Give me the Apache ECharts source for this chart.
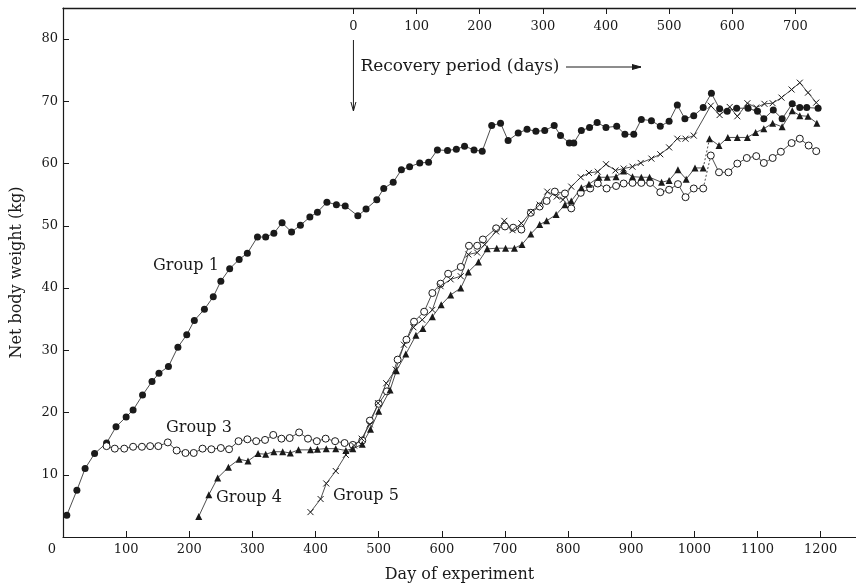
<!DOCTYPE html>
<html>
<head>
<meta charset="utf-8">
<title>Net body weight by group</title>
<script src="https://cdn.jsdelivr.net/npm/echarts@6/dist/echarts.min.js"></script>
<style>
  html, body { margin: 0; padding: 0; background: #fff; }
  #chart { width: 856px; height: 588px; }
</style>
</head>
<body>
<div id="chart"></div>
<script>
// Day of experiment and net body weight (kg) for each group
const group1Days = [6,22,35,50,69,84,100,111,126,141,152,167,182,196,208,224,238,250,264,279,292,308,321,334,347,362,376,391,403,418,433,447,467,480,497,508,523,536,549,565,579,593,609,623,636,651,664,679,693,705,721,735,749,763,778,788,802,809,821,834,846,860,877,890,904,916,932,946,960,973,985,999,1014,1027,1040,1052,1067,1085,1100,1110,1125,1139,1155,1167,1178,1196];
const group1Weight = [3.5,7.5,11.0,13.4,15.1,17.7,19.3,20.4,22.8,25.0,26.3,27.4,30.5,32.5,34.8,36.6,38.6,41.1,43.1,44.6,45.6,48.2,48.2,48.8,50.5,49.0,50.1,51.4,52.2,53.8,53.4,53.2,51.6,52.7,54.2,56.0,57.0,59.0,59.5,60.1,60.2,62.2,62.1,62.3,62.8,62.2,62.0,66.1,66.5,63.7,64.9,65.5,65.2,65.3,66.1,64.5,63.3,63.3,65.3,65.8,66.6,65.8,66.0,64.7,64.7,67.1,66.9,66.0,66.8,69.4,67.2,67.7,69.0,71.3,68.8,68.4,68.9,68.9,68.4,67.2,68.6,67.2,69.6,69.0,69.0,68.9];

const group3Days = [69,82,97,111,125,138,151,166,180,194,207,221,235,250,263,278,292,306,320,333,346,359,374,388,402,416,431,446,459,474,486,500,513,530,544,556,572,585,598,610,630,643,656,665,686,700,713,726,741,755,766,779,795,805,820,835,847,861,876,888,902,916,930,946,960,974,986,999,1014,1026,1039,1054,1068,1083,1098,1110,1124,1137,1154,1167,1181,1193];
const group3Weight = [14.6,14.2,14.2,14.5,14.5,14.6,14.6,15.2,13.9,13.5,13.5,14.2,14.1,14.3,14.1,15.4,15.7,15.4,15.6,16.4,15.8,15.9,16.8,15.8,15.4,15.8,15.4,15.1,14.8,15.5,18.7,21.4,23.4,28.5,31.7,34.6,36.2,39.2,40.7,42.3,43.4,46.8,46.8,47.8,49.6,49.9,49.7,49.4,52.1,53.1,54.0,55.5,55.2,52.8,55.3,56.0,56.8,56.0,56.4,56.8,56.9,56.9,56.9,55.4,55.8,56.7,54.6,56.0,56.0,61.3,58.6,58.6,60.0,60.9,61.2,60.1,60.9,61.9,63.3,64.0,62.9,62.0];

const group4Days = [215,231,245,262,279,293,309,321,334,348,360,373,392,403,417,432,448,459,474,487,500,518,528,543,559,570,585,599,614,630,642,658,672,687,701,715,727,741,755,766,781,795,805,821,833,849,862,876,888,902,916,929,948,960,974,987,1001,1014,1024,1039,1053,1068,1084,1097,1110,1124,1139,1155,1167,1180,1194];
const group4Weight = [3.3,6.8,9.5,11.2,12.5,12.2,13.4,13.3,13.7,13.7,13.5,14.0,14.0,14.1,14.2,14.2,13.9,14.2,14.9,17.3,20.2,23.6,26.7,29.4,32.4,33.5,35.4,37.3,38.9,40.0,42.6,44.2,46.3,46.4,46.4,46.4,47.0,48.7,50.2,50.8,51.8,53.4,54.0,56.1,56.7,57.8,57.8,57.9,58.8,57.9,57.8,57.8,57.0,57.3,59.0,57.5,59.3,59.3,64.0,62.9,64.2,64.2,64.2,65.0,65.6,66.5,65.9,68.5,67.7,67.6,66.5];

const group5Days = [392,408,417,432,448,461,473,486,499,512,527,540,555,569,585,598,614,630,642,656,668,686,699,712,726,741,755,767,782,792,805,820,833,847,860,875,888,902,915,932,946,960,973,986,999,1026,1040,1056,1068,1084,1098,1111,1124,1138,1154,1167,1180,1193];
const group5Weight = [4.0,6.1,8.6,10.6,13.2,14.7,15.8,18.1,21.5,24.7,26.9,30.9,33.7,34.9,36.5,40.3,41.4,41.9,45.4,45.7,47.0,49.1,50.8,49.3,50.4,52.2,53.4,55.5,54.7,54.2,56.3,57.8,58.5,58.7,59.9,58.9,59.2,59.5,60.1,60.8,61.5,62.6,64.0,64.0,64.5,69.3,67.8,69.1,67.6,69.7,69.0,69.6,69.7,70.6,71.9,73.0,71.4,69.8];

// Unmeasured interval bridged by a dotted line in groups 3 and 4
const gapStartDay = 1014;

// Tick labels
const dayTicks = [0,100,200,300,400,500,600,700,800,900,1000,1100,1200];
const weightTicks = [10,20,30,40,50,60,70,80];
const recoveryStartDay = 460;
const recoveryTicks = [0,100,200,300,400,500,600,700];

const FONT = '"DejaVu Serif", "Liberation Serif", serif';
const INK = '#1a1a1a';
const LINE = '#3a3a3a';

function pairs(days, vals) {
  return days.map((d, i) => [d, vals[i]]);
}
// Split a series at a gap: solid part (with a break) and the dotted bridge
function splitAtGap(days, vals, gapDay) {
  const solid = [];
  let bridge = [];
  days.forEach((d, i) => {
    solid.push([d, vals[i]]);
    if (d === gapDay && i + 1 < days.length) {
      solid.push([null, null]);
      bridge = [[d, vals[i]], [days[i + 1], vals[i + 1]]];
    }
  });
  return { solid, bridge };
}

const xMark = 'path://M0,0L10,10M10,0L0,10';
const g3 = splitAtGap(group3Days, group3Weight, gapStartDay);
const g4 = splitAtGap(group4Days, group4Weight, gapStartDay);

const baseLine = { type: 'line', animation: false, connectNulls: false, z: 3,
  lineStyle: { color: LINE, width: 0.9 } };

const chart = echarts.init(document.getElementById('chart'), null, { renderer: 'canvas' });

const option = {
  backgroundColor: '#fff',
  animation: false,
  grid: { left: 63, right: 0, top: 8, bottom: 49, containLabel: false },
  xAxis: [
    {
      type: 'value', position: 'bottom', min: 0, max: 1256, interval: 100,
      name: 'Day of experiment', nameLocation: 'middle', nameGap: 30,
      nameTextStyle: { fontFamily: FONT, fontSize: 16, color: INK },
      axisLine: { show: true, lineStyle: { color: INK, width: 1.2 } },
      axisTick: { show: true, inside: true, length: 6, lineStyle: { color: INK, width: 1 },
        customValues: dayTicks },
      axisLabel: { fontFamily: FONT, fontSize: 13, color: INK, margin: 6,
        customValues: dayTicks, alignMinLabel: 'right',
        formatter: v => (v === 0 ? '{zero|0}' : String(v)),
        rich: { zero: { fontFamily: FONT, fontSize: 13, color: INK, padding: [0, 7, 0, 0] } } },
      splitLine: { show: false }
    },
    {
      type: 'value', position: 'top', min: 0, max: 1256,
      axisLine: { show: true, onZero: false, lineStyle: { color: INK, width: 1.4 } },
      axisTick: { show: true, inside: true, length: 6, lineStyle: { color: INK, width: 1 },
        customValues: recoveryTicks.map(t => t + recoveryStartDay) },
      axisLabel: { inside: true, margin: 12, fontFamily: FONT, fontSize: 13, color: INK,
        customValues: recoveryTicks.map(t => t + recoveryStartDay),
        formatter: v => String(Math.round(v - recoveryStartDay)) },
      splitLine: { show: false }
    }
  ],
  yAxis: {
    type: 'value', min: 0, max: 85,
    name: 'Net body weight (kg)', nameLocation: 'middle', nameGap: 38, nameRotate: 90,
    nameTextStyle: { fontFamily: FONT, fontSize: 16, color: INK },
    axisLine: { show: true, lineStyle: { color: INK, width: 1.2 } },
    axisTick: { show: true, inside: true, length: 6, lineStyle: { color: INK, width: 1 },
      customValues: weightTicks },
    axisLabel: { fontFamily: FONT, fontSize: 13, color: INK, margin: 5,
      customValues: weightTicks },
    splitLine: { show: false }
  },
  series: [
    Object.assign({}, baseLine, {
      name: 'Group 1', data: pairs(group1Days, group1Weight),
      symbol: 'circle', symbolSize: 7,
      itemStyle: { color: INK, borderWidth: 0 }
    }),
    Object.assign({}, baseLine, {
      name: 'Group 3', data: g3.solid,
      symbol: 'circle', symbolSize: 7,
      itemStyle: { color: '#fff', borderColor: INK, borderWidth: 1 }
    }),
    Object.assign({}, baseLine, {
      name: 'Group 3 gap', data: g3.bridge, symbol: 'none', z: 2,
      lineStyle: { color: LINE, width: 0.9, type: [2, 2] }
    }),
    Object.assign({}, baseLine, {
      name: 'Group 4', data: g4.solid,
      symbol: 'triangle', symbolSize: 7,
      itemStyle: { color: INK, borderWidth: 0 }
    }),
    Object.assign({}, baseLine, {
      name: 'Group 4 gap', data: g4.bridge, symbol: 'none', z: 2,
      lineStyle: { color: LINE, width: 0.9, type: [2, 2] }
    }),
    Object.assign({}, baseLine, {
      name: 'Group 5', data: pairs(group5Days, group5Weight),
      symbol: xMark, symbolSize: 6,
      itemStyle: { color: 'rgba(0,0,0,0)', borderColor: INK, borderWidth: 1 }
    })
  ]
};

chart.setOption(option);

// Annotations: group names, recovery-period caption and arrows
const recoveryX = chart.convertToPixel({ xAxisIndex: 0 }, recoveryStartDay);
const labelStyle = { fontFamily: FONT, fontSize: 16, fill: INK };
function text(str, x, y, size) {
  return { type: 'text', x: x, y: y, silent: true, z: 10,
    style: Object.assign({ text: str, textVerticalAlign: 'middle' }, labelStyle,
      size ? { fontSize: size } : {}) };
}
chart.setOption({
  graphic: [
    text('Group 1', 153, 266),
    text('Group 3', 166, 428),
    text('Group 4', 216, 498),
    text('Group 5', 333, 496),
    text('Recovery period (days)', recoveryX + 7, 67, 17),
    { type: 'line', silent: true, z: 10,
      shape: { x1: recoveryX, y1: 40, x2: recoveryX, y2: 110 },
      style: { stroke: INK, lineWidth: 1 } },
    { type: 'polyline', silent: true, z: 10,
      shape: { points: [[recoveryX - 2.5, 102], [recoveryX, 111], [recoveryX + 2.5, 102]] },
      style: { stroke: INK, lineWidth: 1, fill: null } },
    { type: 'line', silent: true, z: 10,
      shape: { x1: 566, y1: 67, x2: 641, y2: 67 },
      style: { stroke: INK, lineWidth: 1 } },
    { type: 'polyline', silent: true, z: 10,
      shape: { points: [[632, 64.5], [641, 67], [632, 69.5]] },
      style: { stroke: INK, lineWidth: 1, fill: INK } }
  ]
});
</script>
</body>
</html>
